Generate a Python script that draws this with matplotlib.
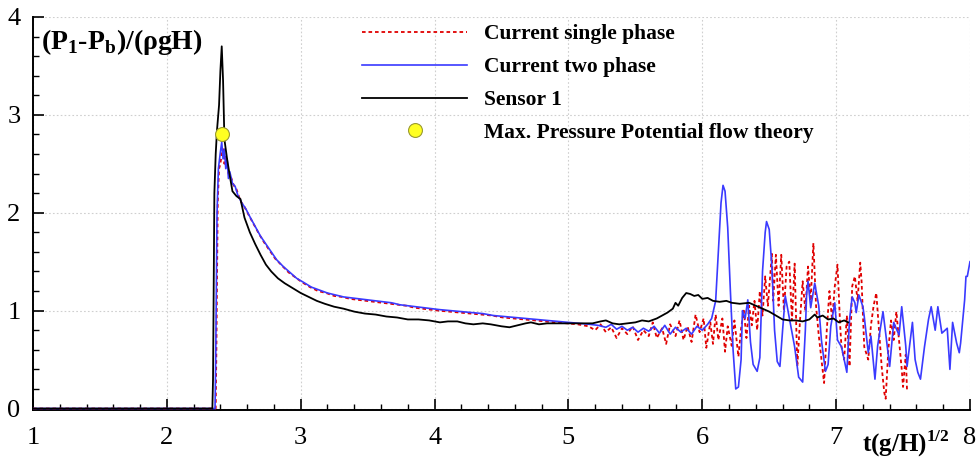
import matplotlib
matplotlib.use('Agg')
import matplotlib.pyplot as plt
from matplotlib.lines import Line2D
from matplotlib.ticker import MultipleLocator

plt.rcParams['font.family'] = ['Liberation Serif', 'DejaVu Serif']
plt.rcParams['mathtext.fontset'] = 'custom'
plt.rcParams['mathtext.rm'] = 'Liberation Serif'
plt.rcParams['mathtext.bf'] = 'Liberation Serif:bold'

# ── Data ──────────────────────────────────────────────────────────────────────
sensor_t = [1.0, 2.34, 2.345, 2.355, 2.365, 2.375, 2.39, 2.40, 2.41, 2.42, 2.43,
            2.45, 2.47, 2.49, 2.52, 2.55, 2.58, 2.62, 2.66, 2.70, 2.74, 2.78,
            2.83, 2.88, 2.94, 3.00, 3.06, 3.12, 3.18, 3.25, 3.32, 3.40, 3.48,
            3.56, 3.64, 3.72, 3.80, 3.88, 3.96, 4.04, 4.10, 4.17, 4.23, 4.29,
            4.36, 4.42, 4.50, 4.56, 4.62, 4.68, 4.72, 4.78, 4.84, 4.90, 4.96,
            5.02, 5.10, 5.18, 5.24, 5.28, 5.33, 5.38, 5.44, 5.50, 5.55, 5.60,
            5.66, 5.70, 5.74, 5.78, 5.80, 5.82, 5.85, 5.88, 5.91, 5.94, 5.97,
            6.00, 6.04, 6.08, 6.13, 6.18, 6.22, 6.28, 6.35, 6.40, 6.45, 6.50,
            6.55, 6.60, 6.65, 6.70, 6.75, 6.80, 6.84, 6.86, 6.90, 6.94, 6.98,
            7.02, 7.06, 7.09]
sensor_p = [0.0, 0.0, 0.3, 2.2, 2.6, 2.85, 3.1, 3.45, 3.70, 3.35, 2.75,
            2.55, 2.38, 2.22, 2.17, 2.14, 1.95, 1.80, 1.68, 1.57, 1.47, 1.40,
            1.33, 1.28, 1.23, 1.18, 1.14, 1.10, 1.07, 1.04, 1.02, 0.99, 0.97,
            0.96, 0.94, 0.93, 0.91, 0.91, 0.90, 0.88, 0.89, 0.89, 0.87, 0.86,
            0.87, 0.86, 0.84, 0.83, 0.85, 0.87, 0.88, 0.86, 0.87, 0.87, 0.87,
            0.87, 0.87, 0.87, 0.89, 0.90, 0.87, 0.86, 0.87, 0.88, 0.90, 0.89,
            0.92, 0.95, 0.98, 1.02, 1.08, 1.05, 1.13, 1.18, 1.17, 1.15, 1.16,
            1.12, 1.13, 1.10, 1.09, 1.10, 1.08, 1.07, 1.08, 1.05, 1.02, 0.99,
            0.95, 0.91, 0.90, 0.90, 0.89, 0.91, 0.96, 0.93, 0.95, 0.91, 0.92,
            0.88, 0.90, 0.88]

two_t = [1.0, 2.36, 2.365, 2.375, 2.385, 2.40, 2.41, 2.42, 2.43, 2.44, 2.45,
         2.46, 2.47, 2.49, 2.51, 2.53, 2.56, 2.59, 2.62, 2.66, 2.70, 2.74,
         2.78, 2.82, 2.87, 2.92, 2.97, 3.02, 3.08, 3.14, 3.20, 3.26, 3.32,
         3.38, 3.44, 3.50, 3.56, 3.62, 3.68, 3.74, 3.80, 3.86, 3.92, 3.98,
         4.04, 4.12, 4.20, 4.28, 4.36, 4.44, 4.52, 4.60, 4.68, 4.76, 4.84,
         4.92, 5.00, 5.08, 5.16, 5.22, 5.28, 5.32, 5.36, 5.40, 5.44, 5.48,
         5.52, 5.56, 5.60, 5.64, 5.68, 5.72, 5.76, 5.80, 5.84, 5.88, 5.92,
         5.96, 6.00, 6.04, 6.07, 6.10, 6.12, 6.14, 6.155, 6.17, 6.19, 6.21,
         6.23, 6.25, 6.27, 6.29, 6.30, 6.32, 6.34, 6.36, 6.38, 6.41, 6.43,
         6.45, 6.47, 6.48, 6.50, 6.52, 6.54, 6.56, 6.58, 6.60, 6.62, 6.64,
         6.66, 6.69, 6.72, 6.75, 6.77, 6.78, 6.79, 6.81, 6.84, 6.87, 6.89,
         6.92, 6.94, 6.96, 6.99, 7.01, 7.04, 7.08, 7.10, 7.12, 7.14, 7.15,
         7.17, 7.20, 7.21, 7.24, 7.26, 7.29, 7.31, 7.35, 7.37, 7.40, 7.43,
         7.47, 7.49, 7.52, 7.53, 7.57, 7.59, 7.61, 7.63, 7.66, 7.69, 7.71,
         7.74, 7.76, 7.79, 7.83, 7.85, 7.87, 7.90, 7.92, 7.93, 7.96, 7.97,
         7.98, 8.00]
two_p = [0.0, 0.0, 0.5, 2.0, 2.45, 2.62, 2.72, 2.55, 2.65, 2.45, 2.55,
         2.35, 2.42, 2.30, 2.27, 2.18, 2.10, 2.04, 1.96, 1.86, 1.76, 1.68,
         1.60, 1.52, 1.45, 1.39, 1.33, 1.29, 1.24, 1.21, 1.18, 1.16, 1.14,
         1.13, 1.12, 1.11, 1.10, 1.09, 1.08, 1.06, 1.05, 1.04, 1.03, 1.02,
         1.01, 1.00, 0.99, 0.98, 0.97, 0.95, 0.94, 0.93, 0.92, 0.91, 0.90,
         0.89, 0.88, 0.87, 0.86, 0.85, 0.83, 0.86, 0.81, 0.84, 0.80, 0.83,
         0.78, 0.82, 0.79, 0.84, 0.77, 0.85, 0.76, 0.83, 0.78, 0.82, 0.76,
         0.84, 0.80, 0.86, 0.92, 1.10, 1.60, 2.10, 2.28, 2.22, 1.85, 1.20,
         0.60, 0.20, 0.22, 0.50, 1.00, 0.92, 1.11, 0.68, 0.45, 0.38, 0.52,
         1.40, 1.80, 1.91, 1.83, 1.45, 0.80, 0.48, 0.43, 0.80, 1.15, 1.00,
         0.85, 0.63, 0.32, 0.27, 0.80, 1.18, 1.30, 1.03, 1.28, 1.05, 0.70,
         0.38, 0.45, 0.84, 1.08, 0.70, 0.63, 0.37, 0.91, 1.14, 1.08, 0.98,
         1.16, 1.04, 0.94, 0.57, 0.74, 0.30, 0.64, 0.99, 0.77, 0.43, 0.88,
         0.75, 1.04, 0.64, 0.43, 0.88, 0.50, 0.37, 0.30, 0.63, 0.91, 1.04,
         0.80, 1.04, 0.77, 0.82, 0.40, 0.88, 0.67, 0.57, 0.67, 1.11, 1.35,
         1.35, 1.50]

single_t = [1.0, 2.365, 2.37, 2.38, 2.39, 2.40, 2.41, 2.42, 2.43, 2.44, 2.46,
            2.48, 2.50, 2.52, 2.55, 2.58, 2.61, 2.65, 2.69, 2.73, 2.77, 2.81,
            2.86, 2.91, 2.96, 3.01, 3.07, 3.13, 3.19, 3.25, 3.31, 3.37, 3.43,
            3.49, 3.55, 3.61, 3.67, 3.73, 3.79, 3.85, 3.91, 3.97, 4.03, 4.11,
            4.19, 4.27, 4.35, 4.43, 4.51, 4.59, 4.67, 4.75, 4.83, 4.91, 4.99,
            5.07, 5.15, 5.20, 5.24, 5.28, 5.32, 5.36, 5.40, 5.44, 5.48, 5.52,
            5.56, 5.60, 5.63, 5.66, 5.70, 5.73, 5.76, 5.80, 5.83, 5.86, 5.89,
            5.92, 5.95, 5.98, 6.01, 6.03, 6.06, 6.08, 6.10, 6.12, 6.15, 6.17,
            6.19, 6.22, 6.24, 6.27, 6.29, 6.31, 6.33, 6.35, 6.37, 6.39, 6.41,
            6.43, 6.45, 6.47, 6.49, 6.52, 6.53, 6.55, 6.57, 6.59, 6.61, 6.63,
            6.65, 6.67, 6.69, 6.71, 6.73, 6.75, 6.77, 6.79, 6.81, 6.83, 6.85,
            6.87, 6.89, 6.91, 6.93, 6.95, 6.97, 6.99, 7.01, 7.03, 7.04, 7.06,
            7.08, 7.10, 7.12, 7.14, 7.16, 7.18, 7.19, 7.21, 7.24, 7.26, 7.28,
            7.30, 7.32, 7.34, 7.36, 7.37, 7.39, 7.41, 7.43, 7.45, 7.47, 7.49,
            7.50, 7.52, 7.53]
single_p = [0.0, 0.0, 0.6, 2.1, 2.45, 2.50, 2.60, 2.65, 2.50, 2.58, 2.40,
            2.36, 2.28, 2.24, 2.12, 2.06, 1.98, 1.88, 1.78, 1.69, 1.61, 1.53,
            1.46, 1.39, 1.34, 1.29, 1.24, 1.20, 1.18, 1.15, 1.14, 1.12, 1.11,
            1.10, 1.09, 1.08, 1.07, 1.06, 1.05, 1.03, 1.02, 1.01, 1.00, 0.99,
            0.98, 0.97, 0.96, 0.95, 0.93, 0.92, 0.91, 0.90, 0.89, 0.88, 0.87,
            0.86, 0.84, 0.80, 0.86, 0.78, 0.83, 0.72, 0.82, 0.76, 0.84, 0.70,
            0.80, 0.74, 0.88, 0.72, 0.82, 0.66, 0.86, 0.74, 0.90, 0.70, 0.84,
            0.68, 0.96, 0.78, 0.92, 0.62, 0.88, 0.66, 0.96, 0.70, 0.92, 0.58,
            0.84, 0.64, 0.90, 0.53, 0.82, 1.00, 0.72, 1.05, 0.85, 1.10, 0.80,
            1.20, 0.95, 1.35, 1.05, 1.58, 1.10, 1.57, 1.05, 1.57, 1.00, 1.45,
            1.50, 0.90, 1.48, 0.43, 0.90, 1.30, 1.00, 1.45, 1.10, 1.69, 1.05,
            0.75, 0.50, 0.26, 0.80, 1.20, 0.90, 1.25, 1.47, 0.85, 0.63, 0.50,
            0.95, 0.43, 1.25, 1.35, 1.10, 1.49, 1.30, 0.63, 0.50, 0.85, 1.05,
            1.18, 0.80, 0.43, 0.16, 0.10, 0.60, 0.90, 0.70, 0.99, 0.70, 0.40,
            0.22, 0.55, 0.17]

theory_t = [2.41]
theory_p = [2.80]

LABELS = ['Current single phase', 'Current two phase', 'Sensor 1',
          'Max. Pressure Potential flow theory']

# ── Figure ────────────────────────────────────────────────────────────────────
fig = plt.figure(figsize=(9.79, 4.65), dpi=100)
ax = fig.add_axes([0.0337, 0.1183, 0.9571, 0.8452])

RED, BLUE, BLACK = '#e00000', '#3a3aff', '#000000'

ax.plot(single_t, single_p, color=RED, lw=1.3, ls=(0, (2, 1.6)), zorder=3)
ax.plot(two_t, two_p, color=BLUE, lw=1.2, zorder=4)
ax.plot(sensor_t, sensor_p, color=BLACK, lw=1.3, zorder=5)
ax.plot(theory_t, theory_p, 'o', ms=10, mfc='#ffff22', mec='#9a9a30',
        mew=0.8, zorder=6)

ax.set_xlim(1, 8)
ax.set_ylim(-0.015, 4)
ax.xaxis.set_major_locator(MultipleLocator(1))
ax.xaxis.set_minor_locator(MultipleLocator(0.2))
ax.yaxis.set_major_locator(MultipleLocator(1))
ax.yaxis.set_minor_locator(MultipleLocator(0.2))

ax.grid(True, which='major', color='#cfcfcf', lw=0.8, ls=(0, (1.5, 2)))
for side in ('top', 'right'):
    ax.spines[side].set_visible(False)
for side in ('left', 'bottom'):
    ax.spines[side].set_linewidth(1.4)

ax.tick_params(which='both', direction='in', top=False, right=False,
               labelsize=19, width=1.2)
ax.tick_params(which='major', length=8)
ax.tick_params(which='minor', length=4, width=1.0)
ax.tick_params(axis='x', pad=12)
ax.tick_params(axis='y', pad=9)

# axis titles as free text, like the reference
ax.text(0.009, 0.975, '(P$_\\mathbf{1}$-P$_\\mathbf{b}$)/(ρgH)',
        transform=ax.transAxes, fontsize=20, fontweight='bold',
        ha='left', va='top')
fig.text(0.880, 0.012, 't(g/H)$^\\mathbf{1/2}$', fontsize=18,
         fontweight='bold', ha='left', va='bottom')

# ── Legend ────────────────────────────────────────────────────────────────────
handles = [
    Line2D([], [], color=RED, lw=1.3, ls=(0, (2, 1.6))),
    Line2D([], [], color=BLUE, lw=1.2),
    Line2D([], [], color=BLACK, lw=1.3),
    Line2D([], [], ls='none', marker='o', ms=10, mfc='#ffff22',
           mec='#9a9a30', mew=0.8),
]
ax.legend(handles, LABELS, loc='upper left',
          bbox_to_anchor=(362 / 979, 1 - 24 / 465),
          bbox_transform=fig.transFigure, frameon=False, borderpad=0,
          borderaxespad=0, handlelength=4.9, handletextpad=0.78,
          labelspacing=0.6,
          prop={'family': 'Liberation Serif', 'weight': 'bold', 'size': 15.5})

fig.savefig('out.png', dpi=100)
